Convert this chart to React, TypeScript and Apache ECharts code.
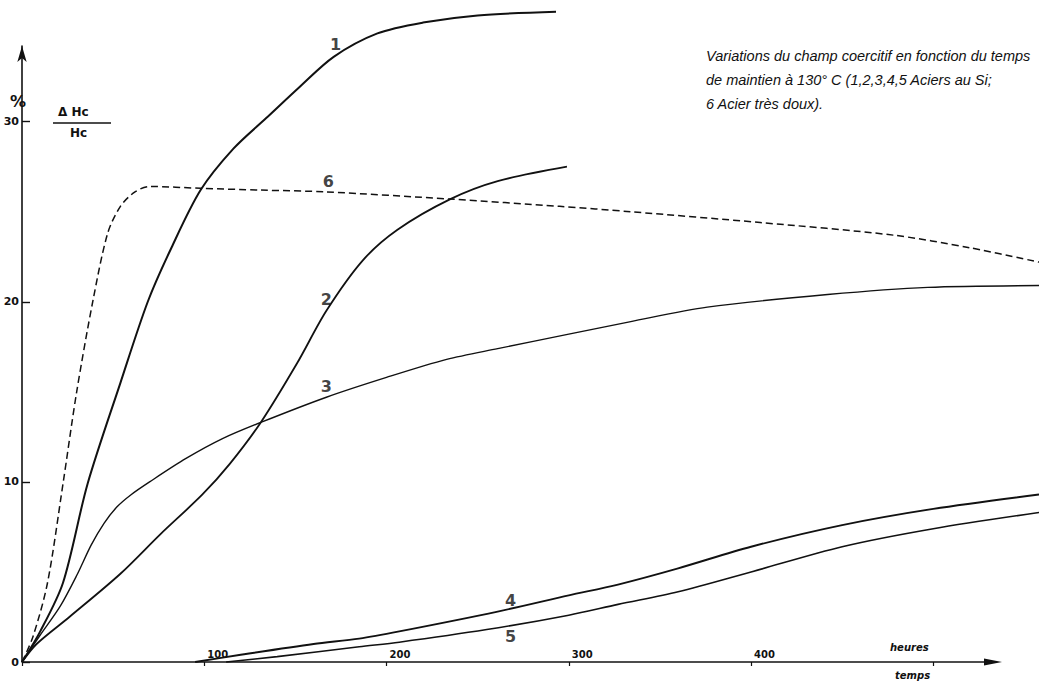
import React, { useEffect, useRef } from "react";
import * as echarts from "echarts";

// time in hours, value in % (ΔHc/Hc)
const curve1: number[][] = [
  [0, 0], [10, 1.7], [22.5, 4.4], [36, 9.9], [54, 15.5], [69, 20.0], [82, 23.0],
  [98, 26.2], [116, 28.5], [134, 30.2], [152, 31.9], [171, 33.6],
  [195, 34.9], [220, 35.5], [250, 35.9], [293, 36.1],
];
const curve2: number[][] = [
  [0, 0], [8, 1.0], [26, 2.5], [54, 4.9], [76, 7.1], [99, 9.3], [114, 11.0],
  [131, 13.3], [151, 16.6], [167, 19.5], [187, 22.3], [206, 24.0], [235, 25.7],
  [261, 26.7], [299, 27.5],
];
const curve3: number[][] = [
  [0, 0], [10, 1.5], [21, 3.1], [30, 4.8], [38, 6.5], [45, 7.7], [52, 8.6],
  [60, 9.3], [70, 10.0], [90, 11.3], [110, 12.4], [131, 13.3],
  [167, 14.7], [200, 15.8], [233, 16.8], [261, 17.4], [300, 18.2], [334, 18.9],
  [376, 19.7], [442, 20.4], [497, 20.8], [558, 20.9],
];
const curve4: number[][] = [
  [95, 0], [120, 0.4], [160, 1.0], [185, 1.3], [207, 1.7], [261, 2.8],
  [300, 3.7], [327, 4.3], [360, 5.2], [400, 6.4], [450, 7.6], [500, 8.5], [558, 9.3],
];
const curve5: number[][] = [
  [112, 0], [140, 0.3], [185, 0.85], [207, 1.1], [255, 1.8], [300, 2.6],
  [327, 3.2], [360, 3.9], [400, 5.0], [450, 6.4], [500, 7.4], [558, 8.3],
];
const curve6: number[][] = [
  [0, 0], [6, 1.4], [14, 4.4], [22.5, 9.9], [30, 15.0], [39, 20.1], [47, 23.8],
  [54, 25.3], [62, 26.1], [70, 26.4], [98, 26.3], [131, 26.2], [167, 26.1],
  [235, 25.7], [295, 25.3], [334, 25.0], [405, 24.4], [478, 23.7], [520, 23.0],
  [558, 22.2],
];
const curveNames = ["1", "2", "3", "4", "5", "6"];
const labelPositions: number[][] = [
  [172, 34.3], [167, 20.1], [167, 15.3], [268, 3.4], [268, 1.44], [168, 26.7],
];
const xTickLabels = ["100", "200", "300", "400"];
const yTickLabels = ["0", "10", "20", "30"];

export default function App() {
  const ref = useRef<HTMLDivElement>(null);
  useEffect(() => {
    if (!ref.current) return;
    const chart = echarts.init(ref.current, undefined, { renderer: "svg" });
    const ink = "#111";
    const lineSeries = (name: string, data: number[][], width: number, dashed = false) => ({
      type: "line",
      name,
      data,
      smooth: 0.3,
      symbol: "none",
      clip: false,
      lineStyle: { color: ink, width, type: dashed ? [7, 4] : "solid" },
      z: 3,
    });
    chart.setOption({
      animation: false,
      backgroundColor: "#fff",
      grid: { left: 22, right: 0, top: 46, bottom: 24 },
      xAxis: {
        type: "value",
        min: 0,
        max: 558,
        interval: 100,
        splitLine: { show: false },
        axisLine: { show: false, onZero: false },
        axisTick: { show: true, inside: false, length: 4, lineStyle: { color: ink, width: 1.2 } },
        axisLabel: {
          inside: true,
          margin: 3,
          align: "left",
          padding: [0, 0, 0, 3],
          color: ink,
          fontFamily: "DejaVu Sans",
          fontWeight: "bold",
          fontSize: 10,
          showMaxLabel: false,
          formatter: (v: number) => {
            if (Math.abs(v % 100) > 1e-6) return "";
            const i = Math.round(v / 100) - 1;
            return i >= 0 && i < xTickLabels.length ? xTickLabels[i] : "";
          },
        },
      },
      yAxis: {
        type: "value",
        min: 0,
        max: 34.2,
        interval: 10,
        splitLine: { show: false },
        axisLine: {
          show: true,
          onZero: false,
          symbol: ["none", "arrow"],
          symbolSize: [7, 16],
          lineStyle: { color: ink, width: 1.6 },
        },
        axisTick: { show: true, inside: true, length: 8, lineStyle: { color: ink, width: 1.4 } },
        axisLabel: {
          margin: 3,
          color: ink,
          fontFamily: "DejaVu Sans",
          fontWeight: "bold",
          fontSize: 11,
          showMaxLabel: false,
          formatter: (v: number) => {
            if (Math.abs(v % 10) > 1e-6) return "";
            const i = Math.round(v / 10);
            return i >= 0 && i < yTickLabels.length ? yTickLabels[i] : "";
          },
        },
      },
      series: [
        lineSeries("1", curve1, 2),
        lineSeries("2", curve2, 1.8),
        lineSeries("3", curve3, 1.4),
        lineSeries("4", curve4, 1.9),
        lineSeries("5", curve5, 1.6),
        lineSeries("6", curve6, 1.5, true),
        {
          type: "scatter",
          data: labelPositions.map((p, i) => ({ value: p, name: curveNames[i] })),
          symbolSize: 0,
          clip: false,
          label: {
            show: true,
            position: "inside",
            formatter: (p: any) => p.name,
            color: ink,
            fontFamily: "DejaVu Sans",
            fontWeight: "bold",
            fontSize: 16,
          },
          z: 4,
        },
      ],
      graphic: [
        {
          type: "line",
          shape: { x1: 22, y1: 662, x2: 990, y2: 662 },
          style: { stroke: ink, lineWidth: 1.6 },
          z: 5,
        },
        {
          type: "polygon",
          shape: { points: [[984, 658.5], [1002, 662], [984, 665.5]] },
          style: { fill: ink },
          z: 5,
        },
        {
          type: "text",
          left: 706,
          top: 44,
          style: {
            text:
              "Variations du champ coercitif en fonction du temps\nde maintien à 130° C (1,2,3,4,5 Aciers au Si;\n6 Acier très doux).",
            fill: ink,
            font: "italic 500 14.5px 'Liberation Sans'",
            lineHeight: 24,
          },
        },
        { type: "text", left: 10, top: 93, style: { text: "%", fill: ink, font: "bold 16px 'DejaVu Sans'" } },
        { type: "text", left: 58, top: 106, style: { text: "Δ Hc", fill: ink, font: "bold 12px 'DejaVu Sans'" } },
        {
          type: "line",
          shape: { x1: 53, y1: 123, x2: 111, y2: 123 },
          style: { stroke: ink, lineWidth: 1.5 },
        },
        { type: "text", left: 70, top: 127, style: { text: "Hc", fill: ink, font: "bold 12px 'DejaVu Sans'" } },
        { type: "text", left: 890, top: 642, style: { text: "heures", fill: ink, font: "italic bold 10px 'DejaVu Sans'" } },
        { type: "text", left: 895, top: 670, style: { text: "temps", fill: ink, font: "italic bold 10px 'DejaVu Sans'" } },
      ],
    });
    return () => chart.dispose();
  }, []);
  return (
    <div
      ref={ref}
      style={{ position: "fixed", left: 0, top: 0, width: 1039, height: 686, background: "#fff" }}
    />
  );
}
